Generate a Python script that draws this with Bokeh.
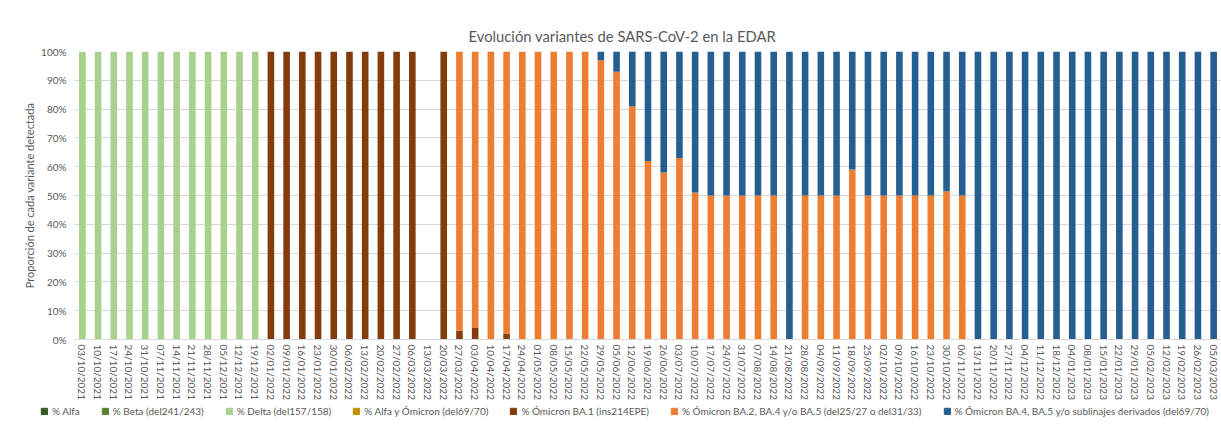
from bokeh.plotting import figure
from bokeh.models import Legend, LegendItem, FixedTicker, PrintfTickFormatter, ColumnDataSource, Range1d
from bokeh.embed import file_html
from bokeh.resources import INLINE

fechas = [
    "03/10/2021", "10/10/2021", "17/10/2021", "24/10/2021", "31/10/2021", "07/11/2021",
    "14/11/2021", "21/11/2021", "28/11/2021", "05/12/2021", "12/12/2021", "19/12/2021",
    "02/01/2022", "09/01/2022", "16/01/2022", "23/01/2022", "30/01/2022", "06/02/2022",
    "13/02/2022", "20/02/2022", "27/02/2022", "06/03/2022", "13/03/2022", "20/03/2022",
    "27/03/2022", "03/04/2022", "10/04/2022", "17/04/2022", "24/04/2022", "01/05/2022",
    "08/05/2022", "15/05/2022", "22/05/2022", "29/05/2022", "05/06/2022", "12/06/2022",
    "19/06/2022", "26/06/2022", "03/07/2022", "10/07/2022", "17/07/2022", "24/07/2022",
    "31/07/2022", "07/08/2022", "14/08/2022", "21/08/2022", "28/08/2022", "04/09/2022",
    "11/09/2022", "18/09/2022", "25/09/2022", "02/10/2022", "09/10/2022", "16/10/2022",
    "23/10/2022", "30/10/2022", "06/11/2022", "13/11/2022", "20/11/2022", "27/11/2022",
    "04/12/2022", "11/12/2022", "18/12/2022", "04/01/2023", "08/01/2023", "15/01/2023",
    "22/01/2023", "29/01/2023", "05/02/2023", "12/02/2023", "19/02/2023", "26/02/2023",
    "05/03/2023",
]

alfa = [0] * 73
beta = [0] * 73
alfa_omicron = [0] * 73

delta = [
    100, 100, 100, 100, 100, 100, 100, 100, 100, 100, 100, 100,
    0, 0, 0, 0, 0, 0, 0, 0, 0, 0, 0, 0,
    0, 0, 0, 0, 0, 0, 0, 0, 0, 0, 0, 0,
    0, 0, 0, 0, 0, 0, 0, 0, 0, 0, 0, 0,
    0, 0, 0, 0, 0, 0, 0, 0, 0, 0, 0, 0,
    0, 0, 0, 0, 0, 0, 0, 0, 0, 0, 0, 0,
    0,
]

ba1 = [
    0, 0, 0, 0, 0, 0, 0, 0, 0, 0, 0, 0,
    100, 100, 100, 100, 100, 100, 100, 100, 100, 100, 0, 100,
    3, 4, 0, 2, 0, 0, 0, 0, 0, 0, 0, 0,
    0, 0, 0, 0, 0, 0, 0, 0, 0, 0, 0, 0,
    0, 0, 0, 0, 0, 0, 0, 0, 0, 0, 0, 0,
    0, 0, 0, 0, 0, 0, 0, 0, 0, 0, 0, 0,
    0,
]

ba2 = [
    0, 0, 0, 0, 0, 0, 0, 0, 0, 0, 0, 0,
    0, 0, 0, 0, 0, 0, 0, 0, 0, 0, 0, 0,
    97, 96, 100, 98, 100, 100, 100, 100, 100, 97, 93, 81,
    62, 58, 63, 51, 50, 50, 50, 50, 50, 0, 50, 50,
    50, 59, 50, 50, 50, 50, 50, 51.5, 50, 0, 0, 0,
    0, 0, 0, 0, 0, 0, 0, 0, 0, 0, 0, 0,
    0,
]

ba4 = [
    0, 0, 0, 0, 0, 0, 0, 0, 0, 0, 0, 0,
    0, 0, 0, 0, 0, 0, 0, 0, 0, 0, 0, 0,
    0, 0, 0, 0, 0, 0, 0, 0, 0, 3, 7, 19,
    38, 42, 37, 49, 50, 50, 50, 50, 50, 100, 50, 50,
    50, 41, 50, 50, 50, 50, 50, 48.5, 50, 100, 100, 100,
    100, 100, 100, 100, 100, 100, 100, 100, 100, 100, 100, 100,
    100,
]

series_keys = ["alfa", "beta", "delta", "alfa_omicron", "ba1", "ba2", "ba4"]
series_labels = [
    "% Alfa",
    "% Beta (del241/243)",
    "% Delta (del157/158)",
    "% Alfa y Ómicron (del69/70)",
    "% Ómicron BA.1 (ins214EPE)",
    "% Ómicron BA.2, BA.4 y/o BA.5 (del25/27 o del31/33)",
    "% Ómicron BA.4, BA.5 y/o sublinajes derivados (del69/70)",
]
series_colors = ["#375623", "#548235", "#A9D18E", "#BF9000", "#843C0C", "#ED7D31", "#255E91"]

src = ColumnDataSource(dict(fecha=fechas, alfa=alfa, beta=beta, delta=delta,
                            alfa_omicron=alfa_omicron, ba1=ba1, ba2=ba2, ba4=ba4))

FONT = "Lato"
GREY = "#595959"

p = figure(x_range=fechas, y_range=Range1d(0, 100), width=1221, height=402,
           output_backend="svg", toolbar_location=None,
           min_border_left=74, min_border_right=0, min_border_top=51, min_border_bottom=62)

renderers = p.vbar_stack(series_keys, x="fecha", width=0.42, color=series_colors,
                         line_color=None, source=src)

p.title.text = "Evolución variantes de SARS-CoV-2 en la EDAR"
p.title.align = "left"
p.title.offset = 394
p.title.text_font = FONT
p.title.text_font_size = "14.8px"
p.title.text_font_style = "normal"
p.title.text_color = GREY
p.title.standoff = 13

p.outline_line_color = None
p.xgrid.grid_line_color = None
p.ygrid.grid_line_color = "#d9d9d9"
p.yaxis.ticker = FixedTicker(ticks=[0, 10, 20, 30, 40, 50, 60, 70, 80, 90, 100])
p.yaxis.formatter = PrintfTickFormatter(format="%d%%")
p.yaxis.axis_line_color = None
p.yaxis.major_tick_line_color = None
p.yaxis.minor_tick_line_color = None
p.yaxis.major_tick_out = 0
p.yaxis.minor_tick_out = 0
p.yaxis.major_label_standoff = 8
p.yaxis.major_label_text_font = FONT
p.yaxis.major_label_text_font_size = "10px"
p.yaxis.major_label_text_color = GREY
p.yaxis.axis_label = "Proporción de cada variante detectada"
p.yaxis.axis_label_text_font = FONT
p.yaxis.axis_label_text_font_size = "11px"
p.yaxis.axis_label_text_font_style = "normal"
p.yaxis.axis_label_text_color = GREY
p.yaxis.axis_label_standoff = 2

p.xaxis.axis_line_color = "#d9d9d9"
p.xaxis.major_tick_line_color = None
p.xaxis.minor_tick_line_color = None
p.xaxis.major_tick_out = 0
p.xaxis.minor_tick_out = 0
p.xaxis.major_label_orientation = "vertical"
p.xaxis.major_label_text_font = FONT
p.xaxis.major_label_text_font_size = "10px"
p.xaxis.major_label_text_color = GREY
p.xaxis.major_label_standoff = 5

# Legend strip below the chart (separate root so its frame spans the full width)
pl = figure(title=None, x_range=Range1d(0, 1), y_range=Range1d(0, 1), width=1221, height=40,
            output_backend="svg", toolbar_location=None, x_axis_type=None, y_axis_type=None,
            min_border=0)
pl.grid.grid_line_color = None
pl.outline_line_color = None
leg_renderers = [pl.vbar(x=[0.5], top=[0], bottom=[0], width=0.01, color=c) for c in series_colors]

legend = Legend(items=[LegendItem(label=l, renderers=[r]) for l, r in zip(series_labels, leg_renderers)],
                orientation="horizontal", location=(40, 25),
                label_text_font=FONT, label_text_font_size="10px", label_text_color=GREY,
                glyph_width=8, glyph_height=8, label_standoff=4, spacing=21,
                border_line_color=None, background_fill_alpha=0, padding=0, margin=0)
pl.add_layout(legend, "center")

open("out.html", "w").write(file_html([p, pl], INLINE))
